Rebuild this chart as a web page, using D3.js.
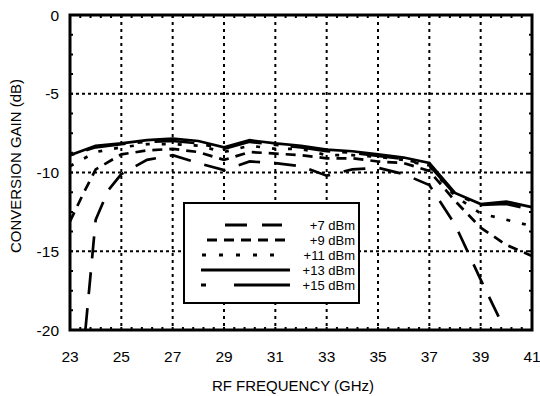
<!DOCTYPE html>
<html>
<head>
<meta charset="utf-8">
<script src="https://cdn.jsdelivr.net/npm/d3@7"></script>
<style>
  body { margin: 0; background: #fff; }
  text { font-family: "Liberation Sans", Arial, Helvetica, sans-serif; fill: #000; }
</style>
</head>
<body>
<div id="plot"></div>
<script>
// series data: [frequency GHz, gain dB]
var freqs = [23, 24, 25, 26, 27, 28, 29, 30, 31, 32, 33, 34, 35, 36, 37, 38, 39, 40, 41];

var gain7 = [[23.6, -20], [24, -13.0], [24.5, -11.1], [25, -10.1], [26, -9.2], [27, -8.9],
             [28, -9.4], [29, -9.85], [30, -9.3], [31, -9.4], [32, -9.6], [33, -10.2],
             [34, -9.8], [35, -9.7], [36, -10.1], [37, -10.8], [38, -13.3], [39, -16.8], [39.95, -20]];
var gain9 = [[23, -13.1], [23.5, -11.4], [24, -9.8], [25, -8.85], [26, -8.6], [27, -8.5],
             [28, -8.7], [29, -9.2], [30, -8.7], [31, -8.8], [32, -8.9], [33, -9.1],
             [34, -9.1], [35, -9.3], [36, -9.4], [37, -9.9], [38, -11.8], [39, -13.5], [40, -14.6], [41, -15.3]];
var gain11 = [-9.6, -8.7, -8.4, -8.2, -8.2, -8.3, -8.7, -8.3, -8.5, -8.5, -8.9, -8.9, -9.0, -9.2, -9.6, -11.5, -12.6, -13.0, -13.4];
var gain13 = [-8.9, -8.3, -8.15, -7.95, -7.85, -8.0, -8.4, -7.95, -8.15, -8.3, -8.55, -8.65, -8.85, -9.05, -9.4, -11.3, -12.0, -11.85, -12.2];
var gain15 = [-8.9, -8.4, -8.2, -8.05, -8.0, -8.15, -8.5, -8.05, -8.25, -8.4, -8.65, -8.75, -8.95, -9.15, -9.55, -11.4, -12.05, -12.0, -12.35];

var seriesNames = ["+7 dBm", "+9 dBm", "+11 dBm", "+13 dBm", "+15 dBm"];
var xTicks = [23, 25, 27, 29, 31, 33, 35, 37, 39, 41];
var yTicks = [0, -5, -10, -15, -20];

var series = [
    gain7,
    gain9,
    freqs.map(function(f, i) { return [f, gain11[i]]; }),
    freqs.map(function(f, i) { return [f, gain13[i]]; }),
    freqs.map(function(f, i) { return [f, gain15[i]]; })
];
var dashes = ["22,14", "10,7", "4,12", null, "5,12,40,12"];
var legendDashes = ["22,15,18,0", "10,7", "4,13", null, "5,28,52,0"];
var legendX = [[225, 282], [207, 290], [202, 287], [201, 290], [201, 290]];

var margin = {top: 15, right: 8, bottom: 66, left: 70}
  , width = 540 - margin.left - margin.right
  , height = 396 - margin.top - margin.bottom;

var x = d3.scaleLinear().domain([23, 41]).range([0, width]);
var y = d3.scaleLinear().domain([-20, 0]).range([height, 0]);

var svg = d3.select('#plot').append('svg')
    .attr('width', 540)
    .attr('height', 396);

var main = svg.append('g')
    .attr('transform', 'translate(' + margin.left + ',' + margin.top + ')');

main.append('defs').append('clipPath').attr('id', 'clip')
  .append('rect').attr('width', width).attr('height', height);

// dotted grid
main.selectAll('.vgrid')
    .data(xTicks.slice(1, -1))
  .enter().append('line')
    .attr('x1', function(d) { return x(d); })
    .attr('x2', function(d) { return x(d); })
    .attr('y1', 0).attr('y2', height)
    .attr('stroke', '#000').attr('stroke-width', 2).attr('stroke-dasharray', '3,4');

main.selectAll('.hgrid')
    .data(yTicks.slice(1, -1))
  .enter().append('line')
    .attr('y1', function(d) { return y(d); })
    .attr('y2', function(d) { return y(d); })
    .attr('x1', 0).attr('x2', width)
    .attr('stroke', '#000').attr('stroke-width', 2).attr('stroke-dasharray', '3,3');

// minor ticks, inward on all four sides
var xMinor = d3.range(23, 41.01, 0.4);
var yMinor = d3.range(-20, 0.01, 1.25);
var tl = 3;
main.selectAll('.xm')
    .data(xMinor)
  .enter().append('path')
    .attr('d', function(d) {
        return 'M' + x(d) + ',' + height + 'v' + (-tl) + 'M' + x(d) + ',0v' + tl;
    })
    .attr('stroke', '#000').attr('stroke-width', 2);
main.selectAll('.ym')
    .data(yMinor)
  .enter().append('path')
    .attr('d', function(d) {
        return 'M0,' + y(d) + 'h' + tl + 'M' + width + ',' + y(d) + 'h' + (-tl);
    })
    .attr('stroke', '#000').attr('stroke-width', 2);

// curves
var line = d3.line()
    .x(function(d) { return x(d[0]); })
    .y(function(d) { return y(d[1]); });

main.append('g').attr('clip-path', 'url(#clip)')
  .selectAll('path')
    .data(series)
  .enter().append('path')
    .attr('d', line)
    .attr('fill', 'none')
    .attr('stroke', '#000')
    .attr('stroke-width', 2.7)
    .attr('stroke-dasharray', function(d, i) { return dashes[i]; });

// frame
main.append('rect')
    .attr('width', width).attr('height', height)
    .attr('fill', 'none').attr('stroke', '#000').attr('stroke-width', 3);

// tick labels
main.selectAll('.xl')
    .data(xTicks)
  .enter().append('text')
    .attr('x', function(d) { return x(d); })
    .attr('y', height + 32)
    .attr('text-anchor', 'middle')
    .style('font-size', '15.5px')
    .text(function(d) { return d; });

main.selectAll('.yl')
    .data(yTicks)
  .enter().append('text')
    .attr('x', -11)
    .attr('y', function(d) { return y(d) + 5.5; })
    .attr('text-anchor', 'end')
    .style('font-size', '15.5px')
    .text(function(d) { return d; });

// axis titles
svg.append('text')
    .attr('x', 293)
    .attr('y', 391)
    .attr('text-anchor', 'middle')
    .style('font-size', '15px')
    .text('RF FREQUENCY (GHz)');

svg.append('text')
    .attr('transform', 'translate(21,' + 166 + ') rotate(-90)')
    .attr('text-anchor', 'middle')
    .style('font-size', '15px')
    .text('CONVERSION GAIN (dB)');

// legend
var lg = svg.append('g');
lg.append('rect')
    .attr('x', 184).attr('y', 203)
    .attr('width', 175).attr('height', 100)
    .attr('fill', '#fff').attr('stroke', '#000').attr('stroke-width', 2);

var rows = lg.selectAll('.legend')
    .data(seriesNames)
  .enter().append('g')
    .attr('transform', function(d, i) { return 'translate(0,' + (225 + i * 15) + ')'; });

rows.append('line')
    .attr('x1', function(d, i) { return legendX[i][0]; })
    .attr('x2', function(d, i) { return legendX[i][1]; })
    .attr('stroke', '#000').attr('stroke-width', 3)
    .attr('stroke-dasharray', function(d, i) { return legendDashes[i]; });

rows.append('text')
    .attr('x', 355)
    .attr('y', 4.5)
    .attr('text-anchor', 'end')
    .style('font-size', '13px')
    .text(function(d) { return d; });
</script>
</body>
</html>
